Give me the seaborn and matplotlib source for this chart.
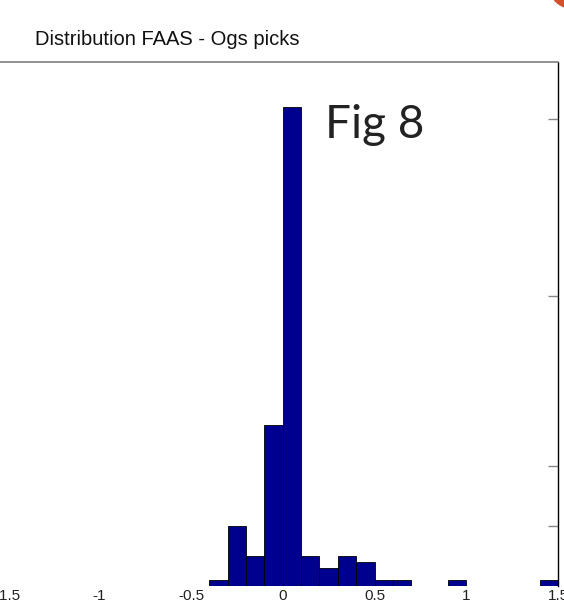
import numpy as np
import pandas as pd
import matplotlib
matplotlib.use('Agg')
import matplotlib.pyplot as plt
from matplotlib.patches import Ellipse
import seaborn as sns

# histogram (bins of 0.1)
bin_edges = [-0.4, -0.3, -0.2, -0.1, 0.0, 0.1, 0.2, 0.3, 0.4, 0.5, 0.6, 0.7,
             0.8, 0.9, 1.0, 1.1, 1.2, 1.3, 1.4, 1.5]
counts = [1, 10, 5, 27, 80, 5, 3, 5, 4, 1, 1, 0, 0, 1, 0, 0, 0, 0, 1]
xtick_vals = [-1.5, -1, -0.5, 0, 0.5, 1, 1.5]
xtick_labels = ['-1.5', '-1', '-0.5', '0', '0.5', '1', '1.5']
marked_x = [-1.5, 0, 0.5, 1]
right_ticks = [10, 20, 48.5, 78]

centres = [(a + b) / 2 for a, b in zip(bin_edges[:-1], bin_edges[1:])]
df = pd.DataFrame({'x': centres, 'n': counts})

sns.set_style('white')
plt.rcParams['font.family'] = ['Liberation Sans', 'DejaVu Sans']

fig = plt.figure(figsize=(5.64, 6.04), dpi=100)
ax = fig.add_axes([-0.0192, 0.0298, 1.0086, 0.8675])

sns.histplot(data=df, x='x', weights='n', bins=bin_edges, ax=ax,
             color='#00008f', alpha=1, edgecolor='black', linewidth=0.6)

ax.set_xlim(-1.6, 1.5)
ax.set_ylim(0, 87.6)
ax.set_xlabel('')
ax.set_ylabel('')

ax.set_xticks(xtick_vals)
ax.set_xticklabels(xtick_labels, fontsize=11, color='#222222')
ax.tick_params(axis='x', length=0, pad=2)
ax.set_xticks(marked_x, minor=True)
ax.tick_params(axis='x', which='minor', direction='in', length=5,
               width=0.8, color='black', top=True, bottom=True)

ax.yaxis.tick_right()
ax.set_yticks(right_ticks)
ax.set_yticklabels([])
ax.tick_params(axis='y', direction='in', length=7, width=1, color='#888888')

ax.spines['bottom'].set_visible(False)
ax.spines['left'].set_visible(False)
ax.spines['top'].set_color('#888888')
ax.spines['top'].set_linewidth(1.3)
ax.spines['right'].set_color('black')
ax.spines['right'].set_linewidth(1.0)

fig.text(0.062, 0.935, 'Distribution FAAS - Ogs picks', fontsize=14.5,
         color='#111111', va='center', ha='left')
ax.text(0.59, 0.88, 'Fig 8', transform=ax.transAxes, fontsize=33,
        family=['Lato', 'DejaVu Sans'], fontweight='normal',
        color='#222222', va='center', ha='left')

fig.patches.append(Ellipse((1.02, 1.02), 0.09, 0.07, transform=fig.transFigure,
                           color='#d4502a', zorder=5))

fig.savefig('out.png', dpi=100)
